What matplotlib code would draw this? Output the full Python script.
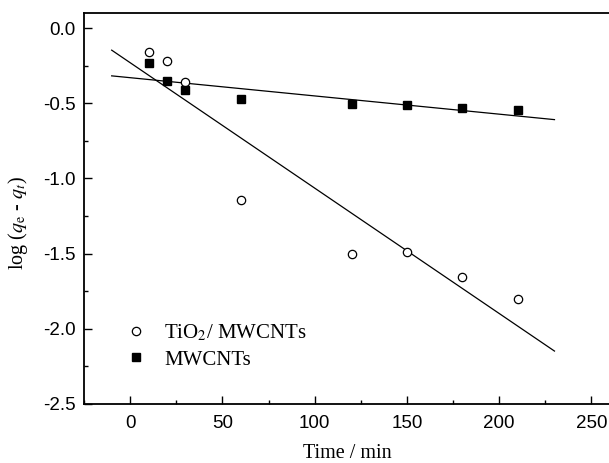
import matplotlib
matplotlib.use("Agg")
import matplotlib.pyplot as plt
from matplotlib.ticker import MultipleLocator

plt.rcParams["mathtext.fontset"] = "stix"

# ============================================================
# Data
# ============================================================
time_min = [10, 20, 30, 60, 120, 150, 180, 210]
tio2_mwcnts = [-0.16, -0.22, -0.36, -1.145, -1.505, -1.49, -1.655, -1.80]
mwcnts = [-0.23, -0.355, -0.41, -0.475, -0.505, -0.515, -0.535, -0.545]

# linear fit lines (end points)
fit_x = [-10, 230]
fit_tio2 = [-0.147, -2.148]
fit_mwcnts = [-0.318, -0.609]

SERIF = "Liberation Serif"
SANS = "Liberation Sans"

fig = plt.figure(figsize=(6.09, 4.63), dpi=100)
ax = fig.add_axes([84 / 609, 59 / 463, 553.5 / 609, 391 / 463])

ax.plot(fit_x, fit_tio2, color="black", linewidth=0.9)
ax.plot(fit_x, fit_mwcnts, color="black", linewidth=0.9)

ax.plot(time_min, tio2_mwcnts, "o", mfc="white", mec="black", mew=0.9,
        ms=6, linestyle="none", label=r"TiO$_2$/ MWCNTs")
ax.plot(time_min, mwcnts, "s", color="black", ms=6, linestyle="none",
        label="MWCNTs")

ax.set_xlim(-25, 275)
ax.set_ylim(-2.5, 0.1)
ax.xaxis.set_major_locator(MultipleLocator(50))
ax.xaxis.set_minor_locator(MultipleLocator(25))
ax.yaxis.set_major_locator(MultipleLocator(0.5))
ax.yaxis.set_minor_locator(MultipleLocator(0.25))
ax.yaxis.set_major_formatter(matplotlib.ticker.FormatStrFormatter("%.1f"))

ax.tick_params(which="both", direction="in", top=False, right=False)
ax.tick_params(which="major", length=6, width=1.0)
ax.tick_params(which="minor", length=3, width=1.0)
ax.tick_params(axis="x", pad=8)
ax.tick_params(axis="y", pad=6)
for lab in ax.get_xticklabels() + ax.get_yticklabels():
    lab.set_fontfamily(SANS)
    lab.set_fontsize(13.5)

for sp in ax.spines.values():
    sp.set_linewidth(1.3)

fig.text(347 / 609, 1 - 454 / 463, "Time / min", family=SERIF, fontsize=14.5,
         ha="center", va="center")
fig.text(18 / 609, 1 - 223 / 463, r"log ($q_\mathrm{e}$ - $q_t$)", family=SERIF,
         fontsize=14.5, ha="center", va="center", rotation=90)

leg = ax.legend(loc="upper left", bbox_to_anchor=(128 / 609, 1 - 323 / 463),
                bbox_transform=fig.transFigure, frameon=False,
                handlelength=0.8, handletextpad=0.95, labelspacing=0.3,
                borderaxespad=0, borderpad=0,
                prop={"family": SERIF, "size": 15})

fig.savefig("out.png", dpi=100)
